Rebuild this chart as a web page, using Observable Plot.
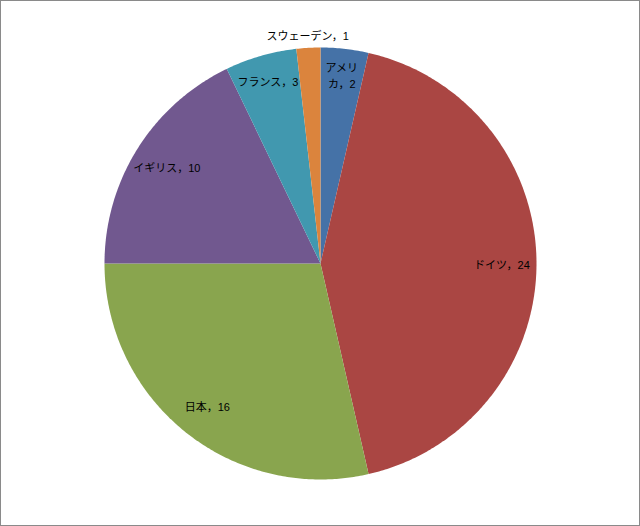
<!DOCTYPE html>
<html>
<head>
<meta charset="utf-8">
<script src="https://cdn.jsdelivr.net/npm/d3@7"></script>
<script src="https://cdn.jsdelivr.net/npm/@observablehq/plot@0.6"></script>
<style>
  html, body { margin: 0; padding: 0; background: #fff; }
  #chart svg { display: block; outline: 1px solid #8a8a8a; outline-offset: -1px; }
  #chart svg text { font-family: "Liberation Sans", "Noto Sans CJK JP", sans-serif; }
</style>
</head>
<body>
<div id="chart"></div>
<script>
const categories = ["アメリカ", "ドイツ", "日本", "イギリス", "フランス", "スウェーデン"];
const values = [2, 24, 16, 10, 3, 1];
const labelNames = ["アメリ\nカ", "ドイツ", "日本", "イギリス", "フランス", "スウェーデン"];
const colors = ["#4572A7", "#AA4643", "#89A54E", "#71588F", "#4198AF", "#DB843D"];

const total = d3.sum(values);
const arcs = d3.pie().sort(null).value(d => d)(values);

// polygon points for each slice (angle measured clockwise from 12 o'clock)
const slicePts = [];
arcs.forEach((a, i) => {
  const n = Math.max(2, Math.ceil((a.endAngle - a.startAngle) / 0.01));
  slicePts.push({name: categories[i], x: 0, y: 0});
  for (let k = 0; k <= n; k++) {
    const t = a.startAngle + (a.endAngle - a.startAngle) * k / n;
    slicePts.push({name: categories[i], x: Math.sin(t), y: Math.cos(t)});
  }
  slicePts.push({name: categories[i], x: 0, y: 0});
});

const labels = arcs.map((a, i) => {
  const frac = values[i] / total;
  const r = frac < 0.025 ? 1.06 : frac < 0.06 ? 0.88 : 0.84;
  const m = (a.startAngle + a.endAngle) / 2;
  return {name: categories[i], text: `${labelNames[i]}，${values[i]}`, x: r * Math.sin(m), y: r * Math.cos(m)};
});

const chart = Plot.plot({
  width: 640,
  height: 526,
  marginLeft: 104,
  marginRight: 104,
  marginTop: 47,
  marginBottom: 47,
  x: {domain: [-1, 1], axis: null},
  y: {domain: [-1, 1], axis: null},
  color: {domain: categories, range: colors},
  style: {background: "#fff"},
  marks: [
    Plot.line(slicePts, {x: "x", y: "y", z: "name", fill: "name", stroke: "none", curve: "linear"}),
    Plot.text(labels, {x: "x", y: "y", text: "text", fontSize: 11, fill: "#000", lineAnchor: "middle", lineHeight: 1.5})
  ]
});
document.getElementById("chart").appendChild(chart);
</script>
</body>
</html>
